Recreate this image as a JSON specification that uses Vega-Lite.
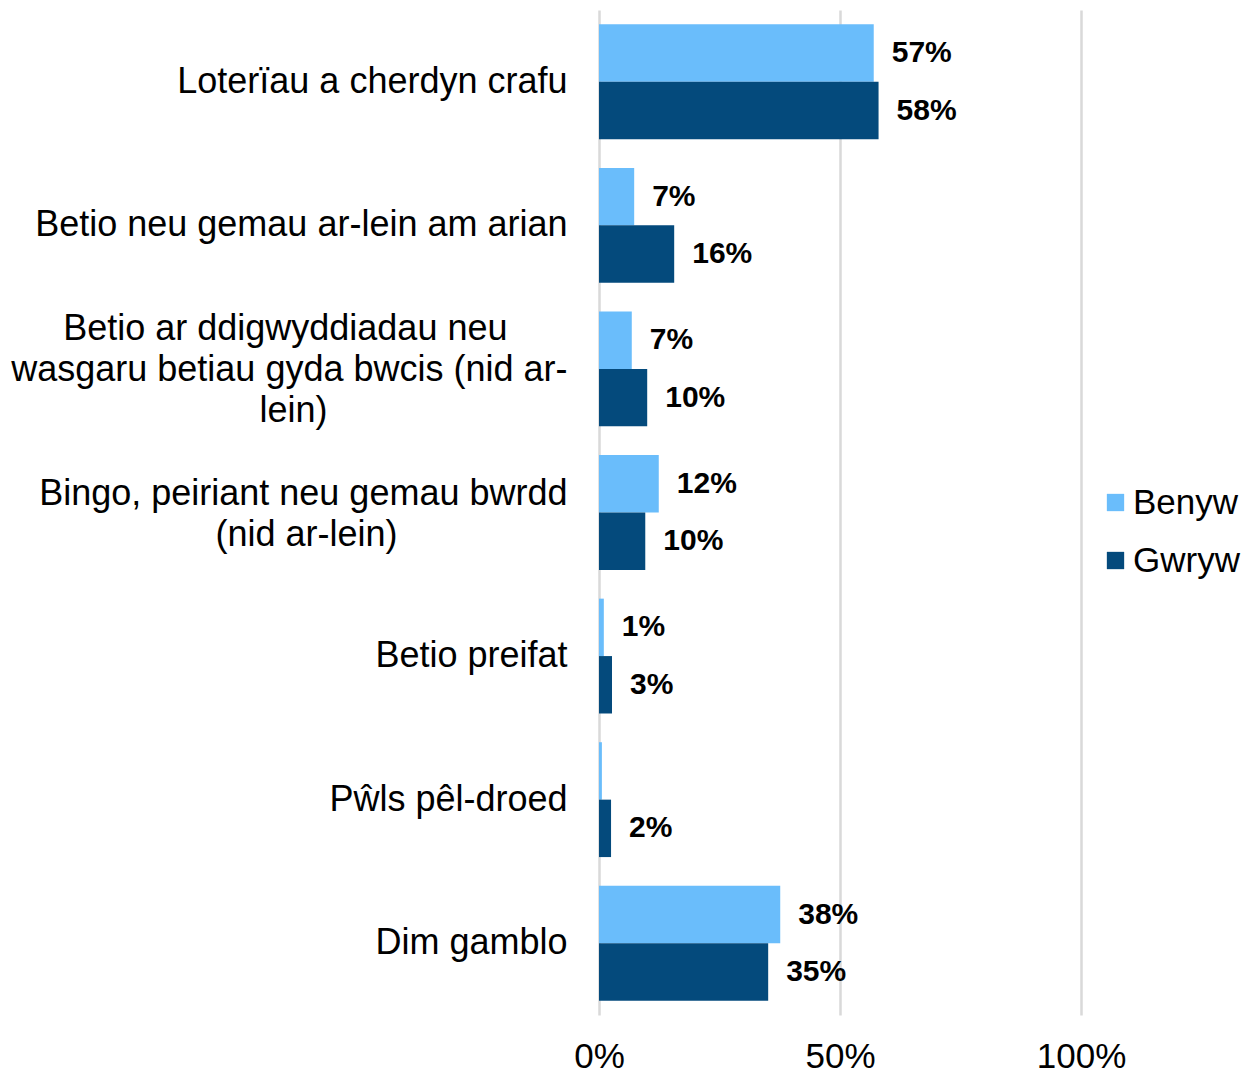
{
  "$schema": "https://vega.github.io/schema/vega-lite/v6.json",
  "width": 482,
  "height": 1005,
  "autosize": "none",
  "padding": {"left": 599, "top": 10, "right": 163, "bottom": 58},
  "background": "white",
  "config": {
    "view": {"stroke": null},
    "font": "Liberation Sans",
    "axis": {"labelColor": "black"},
    "legend": {"labelColor": "black"}
  },
  "data": {
    "values": [
      {"category": "Loterïau a cherdyn crafu", "gender": "Benyw", "value": 57, "label": "57%"},
      {"category": "Loterïau a cherdyn crafu", "gender": "Gwryw", "value": 58, "label": "58%"},
      {"category": "Betio neu gemau ar-lein am arian", "gender": "Benyw", "value": 7.3, "label": "7%"},
      {"category": "Betio neu gemau ar-lein am arian", "gender": "Gwryw", "value": 15.6, "label": "16%"},
      {"category": "Betio ar ddigwyddiadau neu wasgaru betiau gyda bwcis (nid ar-lein)", "gender": "Benyw", "value": 6.8, "label": "7%"},
      {"category": "Betio ar ddigwyddiadau neu wasgaru betiau gyda bwcis (nid ar-lein)", "gender": "Gwryw", "value": 10, "label": "10%"},
      {"category": "Bingo, peiriant neu gemau bwrdd (nid ar-lein)", "gender": "Benyw", "value": 12.4, "label": "12%"},
      {"category": "Bingo, peiriant neu gemau bwrdd (nid ar-lein)", "gender": "Gwryw", "value": 9.6, "label": "10%"},
      {"category": "Betio preifat", "gender": "Benyw", "value": 1, "label": "1%"},
      {"category": "Betio preifat", "gender": "Gwryw", "value": 2.7, "label": "3%"},
      {"category": "Pŵls pêl-droed", "gender": "Benyw", "value": 0.6, "label": ""},
      {"category": "Pŵls pêl-droed", "gender": "Gwryw", "value": 2.5, "label": "2%"},
      {"category": "Dim gamblo", "gender": "Benyw", "value": 37.6, "label": "38%"},
      {"category": "Dim gamblo", "gender": "Gwryw", "value": 35.1, "label": "35%"}
    ]
  },
  "encoding": {
    "y": {
      "field": "category",
      "type": "nominal",
      "sort": null,
      "scale": {"paddingInner": 0.2, "paddingOuter": 0.1},
      "axis": {
        "title": null,
        "domain": false,
        "ticks": false,
        "labelFontSize": 36,
        "labelPadding": 32,
        "labelLimit": 700,
        "labelLineHeight": 41,
        "labelOffset": {
          "condition": [
            {"test": "datum.value == 'Betio ar ddigwyddiadau neu wasgaru betiau gyda bwcis (nid ar-lein)'", "value": -40},
            {"test": "datum.value == 'Bingo, peiriant neu gemau bwrdd (nid ar-lein)'", "value": -19}
          ],
          "value": 0
        },
        "labelExpr": "datum.label == 'Betio ar ddigwyddiadau neu wasgaru betiau gyda bwcis (nid ar-lein)' ? ['Betio ar ddigwyddiadau neu\u00a0\u00a0\u00a0\u00a0\u00a0\u00a0\u200b', 'wasgaru betiau gyda bwcis (nid ar-', 'lein)\u00a0\u00a0\u00a0\u00a0\u00a0\u00a0\u00a0\u00a0\u00a0\u00a0\u00a0\u00a0\u00a0\u00a0\u00a0\u00a0\u00a0\u00a0\u00a0\u00a0\u00a0\u00a0\u00a0\u00a0\u200b'] : datum.label == 'Bingo, peiriant neu gemau bwrdd (nid ar-lein)' ? ['Bingo, peiriant neu gemau bwrdd', '(nid ar-lein)\u00a0\u00a0\u00a0\u00a0\u00a0\u00a0\u00a0\u00a0\u00a0\u00a0\u00a0\u00a0\u00a0\u00a0\u00a0\u00a0\u00a0\u200b'] : datum.label"
      }
    },
    "yOffset": {"field": "gender", "type": "nominal", "sort": ["Benyw", "Gwryw"]},
    "x": {
      "field": "value",
      "type": "quantitative",
      "scale": {"domain": [0, 100], "nice": false},
      "axis": {
        "title": null,
        "values": [0, 50, 100],
        "labelExpr": "datum.value + '%'",
        "domain": false,
        "ticks": false,
        "grid": true,
        "gridColor": "#D9D9D9",
        "gridWidth": 2.5,
        "labelFontSize": 35,
        "labelPadding": 24,
        "labelFlush": false
      }
    }
  },
  "layer": [
    {
      "mark": {"type": "bar"},
      "encoding": {
        "color": {
          "field": "gender",
          "type": "nominal",
          "sort": ["Benyw", "Gwryw"],
          "scale": {"domain": ["Benyw", "Gwryw"], "range": ["#6ABDFB", "#044A7C"]},
          "legend": {
            "title": null,
            "orient": "none",
            "legendX": 499,
            "legendY": 475,
            "symbolType": "square",
            "symbolSize": 300,
            "symbolStrokeWidth": 0,
            "labelFontSize": 35,
            "labelOffset": 0,
            "rowPadding": 22,
            "padding": 0
          }
        }
      }
    },
    {
      "mark": {"type": "text", "align": "left", "baseline": "middle", "dx": 18, "fontSize": 30, "fontWeight": "bold", "color": "black"},
      "encoding": {
        "text": {"field": "label"}
      }
    }
  ]
}
